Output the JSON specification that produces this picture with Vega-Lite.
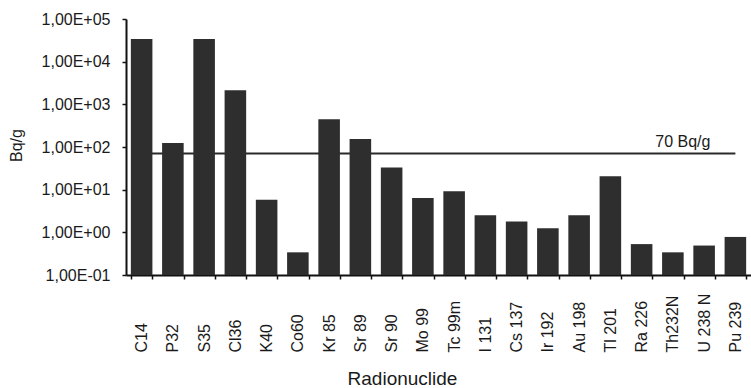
{
  "$schema": "https://vega.github.io/schema/vega-lite/v6.json",
  "width": 625,
  "height": 256,
  "autosize": "none",
  "padding": {"left": 126, "top": 19, "right": 0, "bottom": 113},
  "background": "white",
  "config": {"view": {"stroke": null}, "font": "Liberation Sans"},
  "data": {
    "values": [
      {"nuclide": "C14", "bq": 34000},
      {"nuclide": "P32", "bq": 124},
      {"nuclide": "S35", "bq": 34000},
      {"nuclide": "Cl36", "bq": 2150},
      {"nuclide": "K40", "bq": 5.8},
      {"nuclide": "Co60", "bq": 0.34},
      {"nuclide": "Kr 85", "bq": 445},
      {"nuclide": "Sr 89", "bq": 154},
      {"nuclide": "Sr 90", "bq": 33},
      {"nuclide": "Mo 99", "bq": 6.4},
      {"nuclide": "Tc 99m", "bq": 9.2},
      {"nuclide": "I 131", "bq": 2.5},
      {"nuclide": "Cs 137", "bq": 1.8},
      {"nuclide": "Ir 192", "bq": 1.24},
      {"nuclide": "Au 198", "bq": 2.5},
      {"nuclide": "Tl 201", "bq": 20.5},
      {"nuclide": "Ra 226", "bq": 0.53},
      {"nuclide": "Th232N", "bq": 0.34},
      {"nuclide": "U 238 N", "bq": 0.49},
      {"nuclide": "Pu 239", "bq": 0.78}
    ]
  },
  "layer": [
    {
      "data": {"values": [{"from": "C14", "to": "Pu 239", "limit": 70}]},
      "mark": {"type": "rule", "color": "#2a2a2a", "strokeWidth": 2},
      "encoding": {
        "x": {"field": "from", "type": "nominal"},
        "x2": {"field": "to"},
        "y": {"field": "limit", "type": "quantitative"}
      }
    },
    {
      "mark": {"type": "bar", "color": "#2e2e2e"},
      "encoding": {
        "x": {
          "field": "nuclide",
          "type": "nominal",
          "sort": null,
          "scale": {
            "domain": ["C14", "P32", "S35", "Cl36", "K40", "Co60", "Kr 85", "Sr 89", "Sr 90", "Mo 99", "Tc 99m", "I 131", "Cs 137", "Ir 192", "Au 198", "Tl 201", "Ra 226", "Th232N", "U 238 N", "Pu 239"],
            "paddingInner": 0.31,
            "paddingOuter": 0.155
          },
          "axis": {
            "title": "Radionuclide",
            "labelAngle": 270,
            "labelAlign": "left",
            "labelBaseline": "middle",
            "labelPadding": 73,
            "labelFontSize": 16,
            "labelColor": "#1a1a1a",
            "labelOverlap": false,
            "tickSize": 4,
            "tickBand": "extent",
            "tickColor": "#111",
            "tickWidth": 1.5,
            "domainColor": "#111",
            "domainWidth": 2,
            "titleFontSize": 19,
            "titleFontWeight": "normal",
            "titleColor": "#1a1a1a",
            "titleX": 276,
            "titleY": 109,
            "titleAlign": "center",
            "titleBaseline": "alphabetic"
          }
        },
        "y": {
          "field": "bq",
          "type": "quantitative",
          "scale": {"type": "log", "domain": [0.1, 100000], "nice": false},
          "axis": {
            "title": "Bq/g",
            "values": [0.1, 1, 10, 100, 1000, 10000, 100000],
            "labelExpr": "'1,00E' + (datum.value < 1 ? '-' : '+') + '0' + abs(round(log(datum.value) / LN10))",
            "labelFontSize": 16,
            "labelColor": "#1a1a1a",
            "labelPadding": 12,
            "tickSize": 4,
            "tickColor": "#111",
            "tickWidth": 1.5,
            "domainColor": "#111",
            "domainWidth": 2,
            "grid": false,
            "titleFontSize": 16,
            "titleFontWeight": "normal",
            "titleColor": "#1a1a1a",
            "titleAngle": 270,
            "titleX": -104.5,
            "titleY": 126,
            "titleAlign": "center",
            "titleBaseline": "alphabetic"
          }
        },
        "y2": {"datum": 0.1}
      }
    },
    {
      "data": {"values": [{"at": "Th232N", "limit": 70, "label": "70 Bq/g"}]},
      "mark": {"type": "text", "fontSize": 16, "color": "#1a1a1a", "align": "center", "baseline": "alphabetic", "dx": 10, "dy": -7},
      "encoding": {
        "x": {"field": "at", "type": "nominal"},
        "y": {"field": "limit", "type": "quantitative"},
        "text": {"field": "label"}
      }
    }
  ]
}
